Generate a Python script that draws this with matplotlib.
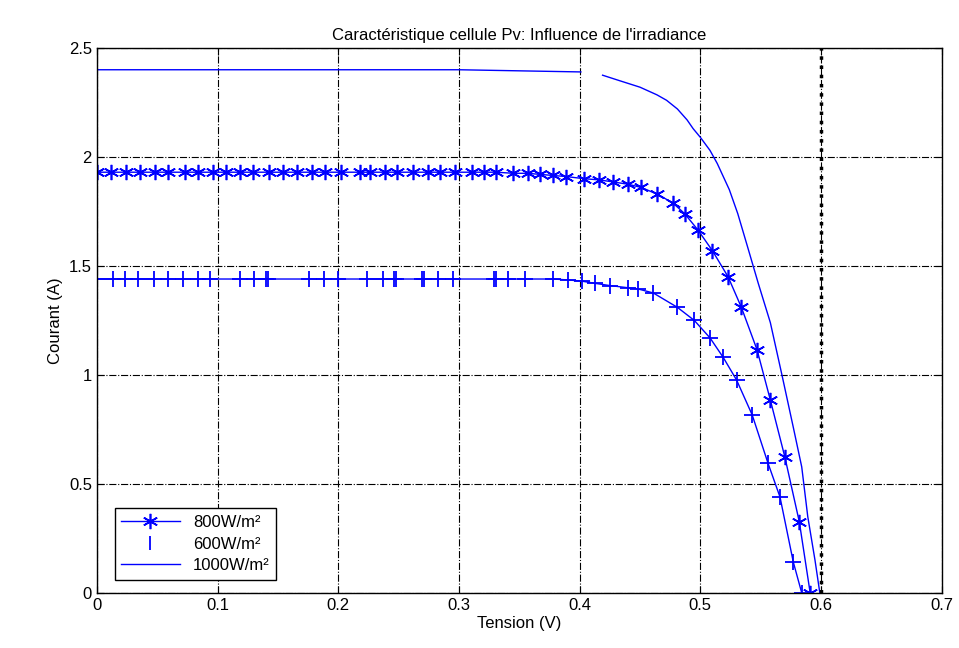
import numpy as np
import matplotlib.pyplot as plt
from matplotlib.lines import Line2D

# --- donnees ---
v_800 = [0.000, 0.012, 0.024, 0.036, 0.048, 0.059, 0.073, 0.084, 0.096, 0.107,
         0.119, 0.129, 0.143, 0.154, 0.166, 0.178, 0.189, 0.202, 0.218, 0.226,
         0.239, 0.249, 0.262, 0.274, 0.284, 0.297, 0.311, 0.321, 0.331, 0.345,
         0.357, 0.367, 0.378, 0.389, 0.404, 0.416, 0.428, 0.440, 0.451, 0.464,
         0.477, 0.487, 0.498, 0.510, 0.523, 0.534, 0.547, 0.558, 0.570, 0.582,
         0.591]
i_800 = [1.93, 1.93, 1.93, 1.93, 1.93, 1.93, 1.93, 1.93, 1.93, 1.93,
         1.93, 1.93, 1.93, 1.93, 1.93, 1.93, 1.93, 1.93, 1.93, 1.93,
         1.93, 1.93, 1.93, 1.93, 1.93, 1.93, 1.93, 1.93, 1.93, 1.925,
         1.925, 1.92, 1.915, 1.91, 1.90, 1.895, 1.885, 1.875, 1.86, 1.83,
         1.79, 1.74, 1.665, 1.57, 1.45, 1.31, 1.115, 0.885, 0.624, 0.326,
         0.0]

v_600 = [0.000, 0.013, 0.023, 0.034, 0.047, 0.059, 0.071, 0.084, 0.094, 0.119,
         0.130, 0.140, 0.142, 0.176, 0.188, 0.200, 0.224, 0.237, 0.246, 0.248,
         0.269, 0.271, 0.283, 0.295, 0.329, 0.331, 0.341, 0.355, 0.378, 0.390,
         0.402, 0.413, 0.425, 0.440, 0.448, 0.461, 0.481, 0.495, 0.508, 0.519,
         0.530, 0.543, 0.556, 0.566, 0.577, 0.584]
i_600 = [1.44, 1.44, 1.44, 1.44, 1.44, 1.44, 1.44, 1.44, 1.44, 1.44,
         1.44, 1.44, 1.44, 1.44, 1.44, 1.44, 1.44, 1.44, 1.44, 1.44,
         1.44, 1.44, 1.44, 1.44, 1.44, 1.44, 1.44, 1.44, 1.44, 1.436,
         1.43, 1.42, 1.41, 1.40, 1.395, 1.376, 1.31, 1.25, 1.17, 1.08,
         0.977, 0.816, 0.596, 0.44, 0.142, 0.0]

v_1000 = [0.000, 0.300, 0.401, np.nan, 0.419, 0.433, 0.450, 0.464, 0.472,
          0.481, 0.489, 0.494, 0.500, 0.508, 0.514, 0.524, 0.531, 0.539,
          0.548, 0.558, 0.568, 0.577, 0.584, 0.589, 0.595, 0.599]
i_1000 = [2.40, 2.40, 2.39, np.nan, 2.375, 2.35, 2.32, 2.285, 2.26,
          2.22, 2.17, 2.13, 2.09, 2.03, 1.97, 1.85, 1.74, 1.59,
          1.42, 1.24, 0.99, 0.76, 0.578, 0.35, 0.15, 0.0]

labels = ['800W/m²', '600W/m²', '1000W/m²']
bleu = (0, 0, 1)
asterisque = (6, 2, 0)

plt.rcParams['font.family'] = ['Liberation Sans', 'DejaVu Sans']
fig = plt.figure(figsize=(9.59, 6.48), dpi=100)
ax = fig.add_axes([0.101, 0.085, 0.881, 0.841])

ax.plot(v_800, i_800, color=bleu, lw=1.0, marker=asterisque, ms=11, mew=1.2)
ax.plot(v_600, i_600, color=bleu, lw=1.0, marker='+', ms=12, mew=1.3)
ax.plot(v_1000, i_1000, color=bleu, lw=1.0)

# trait vertical epais en pointilles a 0.6 V
ax.axvline(0.6, color='black', ls=':', lw=2.5)

ax.set_xlim(0, 0.7)
ax.set_ylim(0, 2.5)
ax.set_xticks(np.arange(0, 0.71, 0.1))
ax.set_yticks(np.arange(0, 2.51, 0.5))
ax.set_xticklabels(['0', '0.1', '0.2', '0.3', '0.4', '0.5', '0.6', '0.7'])
ax.set_yticklabels(['0', '0.5', '1', '1.5', '2', '2.5'])
ax.grid(True, color='black', ls='-.', lw=0.8)
ax.tick_params(direction='in', labelsize=12, length=5, top=True, right=True)
for s in ax.spines.values():
    s.set_linewidth(1.0)

ax.set_title("Caractéristique cellule Pv: Influence de l'irradiance", fontsize=12)
ax.set_xlabel('Tension (V)', fontsize=12, labelpad=2)
ax.set_ylabel('Courant (A)', fontsize=12)

handles = [
    Line2D([], [], color=bleu, lw=1.0, marker=asterisque, ms=11, mew=1.2),
    Line2D([], [], color=bleu, ls='none', marker='|', ms=10, mew=1.3),
    Line2D([], [], color=bleu, lw=1.0),
]
leg = ax.legend(handles, labels, loc='lower left', bbox_to_anchor=(0.021, 0.024),
                fontsize=12, fancybox=False, framealpha=1, edgecolor='black',
                borderaxespad=0, handlelength=3.5, labelspacing=0.4)
leg.get_frame().set_linewidth(1.0)

fig.savefig('out.png', dpi=100)
